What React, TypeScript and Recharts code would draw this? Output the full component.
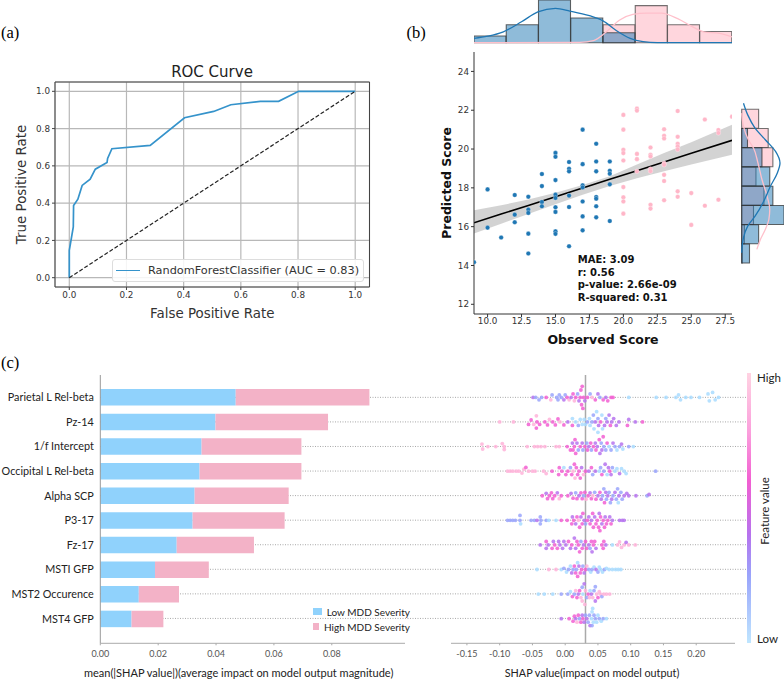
import React from "react";
import {
  Area,
  Bar,
  BarChart,
  CartesianGrid,
  ComposedChart,
  Legend,
  Line,
  LineChart,
  ReferenceLine,
  Scatter,
  ScatterChart,
  XAxis,
  YAxis,
} from "recharts";

// panel (a)
const rocPoints = [
  { fpr: 0, tpr: 0 }, { fpr: 0, tpr: 0.147 }, { fpr: 0.014, tpr: 0.272 }, { fpr: 0.015, tpr: 0.387 },
  { fpr: 0.03, tpr: 0.421 }, { fpr: 0.045, tpr: 0.495 }, { fpr: 0.073, tpr: 0.529 }, { fpr: 0.091, tpr: 0.582 },
  { fpr: 0.132, tpr: 0.618 }, { fpr: 0.134, tpr: 0.64 }, { fpr: 0.149, tpr: 0.692 }, { fpr: 0.283, tpr: 0.71 },
  { fpr: 0.403, tpr: 0.858 }, { fpr: 0.505, tpr: 0.892 }, { fpr: 0.565, tpr: 0.928 }, { fpr: 0.668, tpr: 0.946 },
  { fpr: 0.732, tpr: 0.946 }, { fpr: 0.802, tpr: 1 }, { fpr: 1, tpr: 1 },
];
const chanceLine = [{ fpr: 0, tpr: 0 }, { fpr: 1, tpr: 1 }];
const rocTicks = [0, 0.2, 0.4, 0.6, 0.8, 1];

// panel (b) scatter: [observed, predicted]
const lowScores = [
  [9, 14.17], [10, 17.92], [10, 15.95], [11, 15.44], [12, 17.63], [12, 16.62], [12, 16.23],
  [13, 17.54], [13, 16.88], [13, 16.71], [13, 15.64], [13, 14.62], [14, 18.71], [14, 18.09], [14, 17.27], [14, 17.05],
  [15, 19.8], [15, 19.6], [15, 18.4], [15, 17.65], [15, 17.48], [15, 17.0], [15, 16.76], [15, 15.76], [15, 15.63],
  [16, 19.33], [16, 18.98], [16, 18.85], [16, 17.6], [16, 17.01], [16, 14.99],
  [17, 21.0], [17, 19.22], [17, 18.13], [17, 18.02], [17, 17.3], [17, 16.53], [17, 15.81],
  [18, 20.27], [18, 19.36], [18, 18.85], [18, 17.53], [18, 17.44], [18, 17.05], [18, 16.48],
  [19, 19.36], [19, 18.88], [19, 18.73], [19, 18.18], [19, 16.29],
];
const highScores = [
  [20, 21.76], [20, 21.0], [20, 19.96], [20, 19.79], [20, 19.41], [20, 18.04], [20, 17.51], [20, 17.3], [20, 16.67],
  [21, 22.08], [21, 21.98], [21, 19.75], [21, 19.48], [21, 18.85],
  [22, 20.08], [22, 19.7], [22, 19.62], [22, 18.97], [22, 18.86], [22, 17.13], [22, 16.93],
  [23, 21.02], [23, 20.68], [23, 20.54], [23, 19.27], [23, 19.19], [23, 18.67], [23, 18.35], [23, 17.36],
  [24, 21.96], [24, 20.63], [24, 20.27], [24, 20.13], [24, 19.98], [24, 17.82], [24, 17.54],
  [25, 17.73], [25, 16.09], [26, 21.52], [26, 17.08], [27, 20.98], [27, 20.83], [27, 17.39], [28, 21.67],
];
const fitRows = [
  { x: 9, fit: 16.2, band: [15.65, 16.85] }, { x: 11, fit: 16.65, band: [16.15, 17.1] },
  { x: 13, fit: 17.09, band: [16.65, 17.4] }, { x: 15, fit: 17.54, band: [17.15, 17.75] },
  { x: 17, fit: 17.99, band: [17.65, 18.15] }, { x: 19, fit: 18.44, band: [18.1, 18.6] },
  { x: 21, fit: 18.88, band: [18.5, 19.2] }, { x: 23, fit: 19.33, band: [18.85, 19.8] },
  { x: 25, fit: 19.78, band: [19.2, 20.35] }, { x: 28, fit: 20.45, band: [19.7, 21.25] },
];
const observedTicks = [10, 12.5, 15, 17.5, 20, 22.5, 25, 27.5];
const predictedTicks = [12, 14, 16, 18, 20, 22, 24];
const statLines = ["MAE: 3.09", "r: 0.56", "p-value: 2.66e-09", "R-squared: 0.31"];

// panel (b) marginals
const observedBins = [
  { bin: "9.0", low: 3, high: 0 }, { bin: "11.4", low: 8, high: 0 }, { bin: "13.8", low: 19, high: 0 },
  { bin: "16.1", low: 11, high: 0 }, { bin: "18.5", low: 4.4, high: 8 }, { bin: "20.9", low: 0, high: 16.5 },
  { bin: "23.3", low: 0, high: 8 }, { bin: "25.6", low: 0, high: 5 },
];
const predictedBins = [
  { bin: "21.1", low: 0, high: 7.6 }, { bin: "20.1", low: 2.6, high: 11.9 }, { bin: "19.1", low: 9.1, high: 14 },
  { bin: "18.1", low: 12.6, high: 6.4 }, { bin: "17.1", low: 14, high: 10 }, { bin: "16.1", low: 19, high: 5.3 },
  { bin: "15.1", low: 7.6, high: 1.2 }, { bin: "14.1", low: 3.5, high: 0.3 },
];
const kdeObservedLow = [
  { x: 9, d: 1.9 }, { x: 10, d: 2.9 }, { x: 11.16, d: 4.85 }, { x: 12.5, d: 9.3 }, { x: 13.7, d: 13.7 },
  { x: 15, d: 15.3 }, { x: 16.06, d: 14.1 }, { x: 17.5, d: 12 }, { x: 18.5, d: 9.7 }, { x: 19.5, d: 5.3 },
  { x: 20.5, d: 1.9 }, { x: 21.45, d: 0.45 }, { x: 22.5, d: 0 }, { x: 28, d: 0 },
];
const kdeObservedHigh = [
  { x: 9, d: 0 }, { x: 16.8, d: 0.15 }, { x: 17.8, d: 0.9 }, { x: 18.75, d: 4.85 }, { x: 19.7, d: 10 },
  { x: 20.7, d: 12.6 }, { x: 21.7, d: 13.2 }, { x: 22.8, d: 13.2 }, { x: 24, d: 10.7 }, { x: 25, d: 7.4 },
  { x: 25.9, d: 4.85 }, { x: 27.1, d: 4.1 }, { x: 28, d: 2.6 },
];
const kdePredictedLow = [
  { y: 21.84, d: 0 }, { y: 21.07, d: 0.8 }, { y: 20.47, d: 2.7 }, { y: 19.96, d: 6 }, { y: 19.19, d: 9.9 },
  { y: 18.42, d: 12.9 }, { y: 17.73, d: 16 }, { y: 17.22, d: 17.2 }, { y: 16.62, d: 15.2 }, { y: 16.02, d: 10.6 },
  { y: 15.42, d: 6 }, { y: 14.74, d: 2.7 }, { y: 14.14, d: 0.8 },
];
const kdePredictedHigh = [
  { y: 21.67, d: 6.8 }, { y: 21.16, d: 8.4 }, { y: 20.64, d: 10.6 }, { y: 20.13, d: 12.2 }, { y: 19.6, d: 12.6 },
  { y: 18.93, d: 11.4 }, { y: 18.07, d: 9.1 }, { y: 17.22, d: 7.3 }, { y: 16.45, d: 5.3 }, { y: 16.02, d: 3 },
  { y: 15.33, d: 0.8 }, { y: 14.65, d: 0 },
];

// panel (c) bars
const features = [
  "Parietal L Rel-beta", "Pz-14", "1/f Intercept", "Occipital L Rel-beta", "Alpha SCP",
  "P3-17", "Fz-17", "MSTI GFP", "MST2 Occurence", "MST4 GFP",
];
const lowSeverity = [0.0468, 0.0398, 0.035, 0.0343, 0.0326, 0.0319, 0.0264, 0.0189, 0.0133, 0.0108];
const highSeverity = [0.0462, 0.0389, 0.0345, 0.0352, 0.0325, 0.0318, 0.0267, 0.0186, 0.0139, 0.011];
const meanTicks = [0, 0.02, 0.04, 0.06, 0.08];

// panel (c) beeswarm: [shap, lift within the row, colour tone]
const swarmParietal = [
  [-.049,0,2],[-.045,0,1],[-.04,.1,1],[-.036,0,1],[-.029,0,3],[-.022,.1,4],[-.02,-.1,1],[-.013,0,1],[-.011,.1,1],[-.009,-.1,1],
  [-.006,0,1],[-.002,.1,2],[0,-.1,1],[.003,0,3],[.006,.1,4],[.009,0,2],[.012,-.14,3],[.014,.14,4],[.016,0,3],[.019,-.14,1],
  [.021,.14,2],[.023,0,3],[.024,-.3,3],[.025,.3,3],[.026,-.45,3],[.027,.45,3],[.028,0,3],[.03,.14,2],[.034,0,3],[.038,-.14,1],
  [.041,0,4],[.046,.1,3],[.05,-.14,2],[.053,0,1],[.058,.1,3],[.062,0,2],[.065,.14,3],[.07,0,3],[.073,0,3],[.097,0,0],
  [.139,0,0],[.154,0,0],[.169,0,0],[.173,-.1,0],[.176,.1,0],[.184,0,0],[.192,0,0],[.205,0,0],[.218,-.14,0],[.22,.14,0],
  [.225,-.2,0],[.229,.1,0],[.234,0,0],
];
const swarmPz = [
  [-.1,0,4],[-.079,0,4],[-.056,.1,3],[-.052,-.08,3],[-.048,.1,4],[-.044,-.25,4],[-.044,.25,3],[-.043,0,3],[-.039,.1,3],[-.031,0,3],
  [-.027,.12,3],[-.024,-.1,4],[-.019,0,3],[-.015,.12,3],[-.011,-.12,3],[-.008,0,4],[-.002,.12,3],[.004,0,2],[.011,-.14,0],[.011,.14,3],
  [.016,0,0],[.02,.14,1],[.023,-.1,0],[.026,.1,0],[.029,-.1,0],[.031,.1,0],[.034,0,1],[.037,-.14,0],[.038,.14,0],[.041,0,1],
  [.043,-.28,1],[.044,.28,0],[.046,0,2],[.048,-.42,0],[.05,.42,0],[.05,-.14,1],[.051,.14,2],[.054,0,3],[.056,-.28,0],[.057,.28,0],
  [.06,.14,2],[.062,-.14,1],[.064,0,2],[.067,-.28,2],[.069,.14,3],[.071,0,2],[.074,-.14,2],[.078,.14,2],[.082,0,2],[.097,-.1,2],
  [.095,.14,3],[.107,0,2],[.118,0,3],
];
const swarmIntercept = [
  [-.127,-.1,4],[-.126,.1,4],[-.118,0,4],[-.106,0,4],[-.096,-.12,4],[-.093,.12,4],[-.093,0,4],[-.058,0,4],[-.047,0,4],[-.042,0,4],
  [-.037,0,4],[-.031,0,4],[-.014,0,4],[-.009,0,4],[.003,0,3],[.008,.14,3],[.011,-.14,2],[.012,.14,3],[.014,0,3],[.015,-.28,3],
  [.016,.28,3],[.018,-.14,2],[.02,.14,1],[.023,0,3],[.026,-.14,2],[.027,.14,1],[.03,0,3],[.033,-.14,1],[.034,.14,3],[.036,0,2],
  [.039,-.14,3],[.04,.14,1],[.043,0,3],[.046,-.14,2],[.047,.14,3],[.049,0,2],[.052,-.28,3],[.053,.28,2],[.055,-.14,1],[.056,.14,2],
  [.058,-.4,3],[.059,0,1],[.062,.14,1],[.064,-.14,3],[.067,0,0],[.07,.14,1],[.073,-.14,2],[.076,0,1],[.079,.14,0],[.083,0,1],
  [.086,-.1,2],[.088,.1,0],[.097,0,1],[.104,0,0],
];
const swarmOccipital = [
  [-.088,0,4],[-.084,0,4],[-.08,0,4],[-.075,0,4],[-.071,0,4],[-.066,.08,4],[-.063,-.08,4],[-.06,-.15,3],[-.056,0,4],[-.05,0,4],
  [-.046,0,4],[-.033,0,4],[-.029,.1,4],[-.02,0,3],[-.01,.14,3],[-.009,-.14,3],[-.005,0,3],[-.002,-.14,0],[.001,.14,3],[.004,0,3],
  [.008,-.14,1],[.01,.14,3],[.012,0,4],[.014,-.28,3],[.015,.28,4],[.017,-.14,3],[.019,.14,3],[.021,0,3],[.023,.28,3],[.025,-.14,2],
  [.028,.14,4],[.031,0,3],[.036,0,2],[.04,-.14,3],[.042,.14,1],[.046,0,2],[.052,0,0],[.054,-.14,1],[.056,.14,3],[.059,0,1],
  [.061,-.28,2],[.064,.14,0],[.066,-.14,2],[.068,0,3],[.07,.14,2],[.072,-.14,1],[.076,0,0],[.079,-.1,0],[.083,.1,2],[.086,-.1,0],
  [.09,0,0],[.093,.1,0],[.138,0,1],
];
const swarmAlpha = [
  [-.035,0,3],[-.029,-.1,2],[-.027,.12,3],[-.024,0,3],[-.021,-.12,3],[-.019,.12,3],[-.016,0,3],[-.012,-.12,2],[-.009,.12,4],[-.006,0,3],
  [.004,0,3],[.009,-.1,2],[.012,.1,3],[.016,-.12,1],[.018,.12,3],[.021,0,2],[.024,-.12,3],[.026,.12,3],[.028,0,1],[.03,-.14,3],
  [.032,.14,4],[.035,0,3],[.038,-.12,2],[.04,.12,3],[.042,0,4],[.045,-.14,1],[.047,.14,3],[.05,0,2],[.053,-.14,3],[.055,.14,2],
  [.057,0,1],[.059,-.28,1],[.06,.28,3],[.062,-.14,2],[.063,.14,1],[.065,0,2],[.067,-.14,1],[.069,.28,1],[.071,.14,2],[.073,0,1],
  [.076,-.14,2],[.078,.14,1],[.08,-.28,1],[.081,.28,0],[.082,0,2],[.085,-.14,1],[.087,.14,1],[.09,0,2],[.094,-.1,2],[.097,0,2],
  [.108,0,2],[.125,0,1],[.128,-.05,2],
];
const swarmP3 = [
  [-.088,0,1],[-.084,0,1],[-.08,0,1],[-.076,0,1],[-.069,0,1],[-.069,-.2,1],[-.068,.14,0],[-.052,0,1],[-.047,0,1],[-.043,0,2],
  [-.038,-.14,1],[-.038,.14,1],[-.037,0,1],[-.029,0,1],[-.025,0,0],[-.014,0,0],[-.006,0,3],[.003,0,3],[.01,.14,3],[.011,-.14,2],
  [.013,0,3],[.016,.14,2],[.018,-.14,3],[.02,0,4],[.022,.28,3],[.024,-.14,2],[.026,.14,3],[.027,-.28,3],[.029,0,2],[.031,.14,1],
  [.034,0,3],[.036,-.14,2],[.038,.14,3],[.04,0,2],[.042,-.28,3],[.043,.28,3],[.045,-.14,2],[.047,.14,3],[.049,0,3],[.051,.28,3],
  [.052,-.28,2],[.053,.42,3],[.054,-.14,3],[.056,.14,2],[.058,0,3],[.06,.28,3],[.061,-.14,2],[.063,.14,3],[.065,0,3],[.068,-.14,2],
  [.07,.14,3],[.072,0,2],[.083,0,2],[.087,0,2],[.09,0,2],
];
const swarmFz = [
  [-.038,0,2],[-.029,.14,2],[-.029,-.14,3],[-.026,0,2],[-.02,.14,3],[-.018,-.14,2],[-.016,0,3],[-.012,.14,3],[-.01,-.14,2],[-.008,0,2],
  [-.004,.14,2],[-.002,-.14,2],[.001,0,2],[.005,-.14,3],[.008,.14,2],[.01,0,3],[.014,-.28,2],[.016,.14,2],[.018,-.14,3],[.02,0,3],
  [.022,.28,3],[.024,-.14,1],[.026,.14,3],[.028,0,2],[.031,-.14,3],[.033,.14,3],[.036,0,2],[.038,.14,1],[.04,-.14,3],[.041,.28,2],
  [.043,0,3],[.045,-.14,3],[.047,.14,2],[.056,0,3],[.058,.14,3],[.059,-.14,3],[.062,0,2],[.072,0,0],[.08,0,4],[.083,-.12,4],
  [.086,.1,4],[.09,0,4],[.093,-.1,2],[.097,0,4],[.107,0,4],
];
const swarmMst1 = [
  [-.043,0,0],[-.025,0,4],[-.014,0,4],[-.006,0,0],[-.002,-.05,1],[.002,.1,0],[.005,0,1],[.008,-.14,0],[.01,.14,2],[.012,0,1],
  [.014,-.14,3],[.016,.14,3],[.017,0,1],[.019,-.28,0],[.019,.28,3],[.021,-.14,2],[.023,.14,3],[.025,0,3],[.027,-.14,1],[.029,.14,2],
  [.031,0,3],[.033,-.14,4],[.036,0,1],[.039,.1,0],[.041,0,1],[.044,-.1,0],[.047,0,2],[.05,.1,1],[.052,-.1,0],[.054,0,0],
  [.057,.1,0],[.06,0,1],[.063,-.05,0],[.067,0,0],[.072,0,0],[.077,0,0],[.081,0,0],[.085,0,0],
];
const swarmMst2 = [
  [-.041,0,0],[-.032,0,0],[-.019,0,0],[-.006,0,1],[.004,0,1],[.008,-.1,0],[.011,.1,3],[.014,0,1],[.016,-.14,4],[.018,.14,3],
  [.02,0,2],[.022,-.14,3],[.024,.14,4],[.026,-.28,1],[.026,.28,4],[.027,0,0],[.029,-.42,2],[.03,.42,4],[.031,-.14,4],[.033,.14,1],
  [.035,0,3],[.037,.14,4],[.038,-.14,0],[.04,0,2],[.042,.14,4],[.044,-.14,1],[.046,.28,2],[.046,-.3,1],[.048,0,4],[.05,.14,3],
  [.052,-.1,4],[.054,0,4],[.056,.1,1],[.059,0,4],[.063,0,4],[.068,0,4],
];
const swarmMst4 = [
  [-.006,0,2],[.006,0,3],[.012,.1,3],[.014,-.1,3],[.016,0,2],[.018,.14,4],[.02,-.14,3],[.022,0,1],[.024,.14,3],[.026,-.14,2],
  [.027,0,3],[.029,.14,2],[.031,-.14,1],[.033,0,2],[.035,.14,1],[.037,-.14,1],[.038,.28,2],[.04,0,0],[.041,-.28,0],[.041,.28,1],
  [.042,-.42,0],[.043,.14,0],[.044,-.14,1],[.046,0,1],[.048,.14,0],[.05,-.14,0],[.052,0,1],[.055,.1,0],[.058,0,1],[.063,0,0],
];
const swarmRows = [
  swarmParietal, swarmPz, swarmIntercept, swarmOccipital, swarmAlpha,
  swarmP3, swarmFz, swarmMst1, swarmMst2, swarmMst4,
];
const shapTicks = [-0.15, -0.1, -0.05, 0, 0.05, 0.1, 0.15, 0.2];
const rowTicks = [0, 1, 2, 3, 4, 5, 6, 7, 8, 9];
const toneColors = ["#a9dcff", "#9aa4fb", "#b673ee", "#f25fd2", "#ffb3d9"];

const severityRows = features.map((name, i) => ({ name, low: lowSeverity[i], high: highSeverity[i] }));
const rowAnchors = rowTicks.map((row) => ({ across: 0.5, row }));
const toRows = (pts: number[][]) => pts.map(([x, y]) => ({ x, y }));

const SANS = "'DejaVu Sans', sans-serif";
const LATO = "Lato, sans-serif";
const SERIF = "'Liberation Serif', serif";
const BLUE = "#1f77b4";
const PINK = "#ffc0cb";

const Note = ({ left, top, style, children }: any) => (
  <div style={{ position: "absolute", left, top, whiteSpace: "nowrap", lineHeight: 1, ...style }}>{children}</div>
);

const Panel = ({ left, top, children }: any) => (
  <div style={{ position: "absolute", left, top }}>{children}</div>
);

const dotShape = (fill: string, r: number) => (p: any) => (
  <circle cx={p.cx} cy={p.cy} r={r} fill={fill} stroke="#fff" strokeWidth={0.3} />
);

const SwarmDot = (p: any) => (
  <circle cx={p.cx} cy={p.cy} r={1.9} fill={toneColors[p.payload.tone]} fillOpacity={0.85} />
);

// plain text tick, the default one wraps long names to the axis width
const FeatureTick = ({ x, y, payload }: any) => (
  <text x={x} y={y} dy="0.34em" textAnchor="end" fontSize={10.8} fontFamily={LATO} fill="#222">{payload.value}</text>
);

const RocLegend = ({ payload }: any) => {
  const item = (payload || []).find((d: any) => d.type !== "none");
  return (
    <div style={{ width: 252, height: 23, boxSizing: "border-box", border: "1px solid #ddd", borderRadius: 3, background: "rgba(255,255,255,0.85)", display: "flex", alignItems: "center", fontFamily: SANS, fontSize: 11.3, color: "#333", whiteSpace: "nowrap" }}>
      <span style={{ width: 24, height: 0, borderTop: "1.7px solid #3593cb", margin: "0 8px 0 3px" }} />
      {item ? item.value : ""}
    </div>
  );
};

const SeverityLegend = ({ payload }: any) => (
  <div style={{ fontFamily: LATO, fontSize: 10, color: "#222", whiteSpace: "nowrap" }}>
    {[...(payload || [])].sort((a: any, b: any) => (a.value < b.value ? 1 : -1)).map((d: any) => (
      <div key={d.value} style={{ display: "flex", alignItems: "center", height: 15 }}>
        <span style={{ width: 17, height: 7, background: d.color, marginRight: 5 }} />
        {d.value}
      </div>
    ))}
  </div>
);

export default function App() {
  return (
    <div style={{ position: "absolute", left: 0, top: 0, width: 784, height: 679, background: "#fff", overflow: "hidden" }}>
      <Note left={1} top={25} style={{ fontFamily: SERIF, fontSize: 16.5 }}>(a)</Note>
      <Note left={406.5} top={24.5} style={{ fontFamily: SERIF, fontSize: 16.5 }}>(b)</Note>
      <Note left={1} top={354.5} style={{ fontFamily: SERIF, fontSize: 16.5 }}>(c)</Note>

      {/* ROC */}
      <Note left={212} top={65} style={{ transform: "translateX(-50%)", fontFamily: SANS, fontSize: 15, color: "#222" }}>ROC Curve</Note>
      <Panel left={0} top={60}>
        <LineChart width={390} height={268} margin={{ top: 22, right: 20.5, bottom: 8, left: 0 }}>
          <CartesianGrid stroke="#b8b8b8" strokeWidth={1.2} />
          <XAxis
            dataKey="fpr"
            type="number"
            domain={[-0.05, 1.05]}
            ticks={rocTicks}
            height={33}
            tickSize={3}
            tickMargin={2}
            stroke="#444"
            tick={{ fontSize: 8.8, fill: "#333", fontFamily: SANS }}
            tickFormatter={(v: number) => v.toFixed(1)}
            label={{ value: "False Positive Rate", position: "insideBottom", offset: 2.5, style: { fontFamily: SANS, fontSize: 13.4, fill: "#333" } }}
          />
          <YAxis
            type="number"
            domain={[-0.05, 1.05]}
            ticks={rocTicks}
            width={55}
            tickSize={3}
            tickMargin={2}
            stroke="#444"
            tick={{ fontSize: 8.8, fill: "#333", fontFamily: SANS }}
            tickFormatter={(v: number) => v.toFixed(1)}
            label={{ value: "True Positive Rate", angle: -90, position: "insideLeft", offset: 21, style: { textAnchor: "middle", fontFamily: SANS, fontSize: 13.4, fill: "#333" } }}
          />
          <ReferenceLine y={1.05} stroke="#444" />
          <ReferenceLine x={1.05} stroke="#444" />
          <Line data={rocPoints} dataKey="tpr" name="RandomForestClassifier (AUC = 0.83)" stroke="#3593cb" strokeWidth={1.7} dot={false} isAnimationActive={false} />
          <Line data={chanceLine} dataKey="tpr" stroke="#222" strokeWidth={1.2} strokeDasharray="4 2" dot={false} legendType="none" isAnimationActive={false} />
          <Legend layout="vertical" align="center" verticalAlign="middle" wrapperStyle={{ left: 112, top: 199, width: 252, height: 23 }} content={<RocLegend />} />
        </LineChart>
      </Panel>

      {/* joint plot, top marginal */}
      <Panel left={474} top={0}>
        <ComposedChart width={258} height={46} data={observedBins} barCategoryGap={0} margin={{ top: 0, right: 0, bottom: 0, left: 0 }}>
          <XAxis xAxisId="pink" dataKey="bin" hide />
          <XAxis xAxisId="blue" dataKey="bin" hide />
          <XAxis xAxisId="num" dataKey="x" type="number" domain={[9, 28]} ticks={observedTicks} height={3.3} tickSize={3} tickFormatter={() => ""} stroke="#445" />
          <YAxis type="number" domain={[0, 19]} hide />
          <Bar xAxisId="pink" dataKey="high" fill={PINK} fillOpacity={0.65} stroke="#444" strokeOpacity={0.75} strokeWidth={1.1} isAnimationActive={false} />
          <Bar xAxisId="blue" dataKey="low" fill={BLUE} fillOpacity={0.5} stroke="#333" strokeOpacity={0.75} strokeWidth={1.1} isAnimationActive={false} />
          <Line xAxisId="num" data={kdeObservedHigh} dataKey="d" type="monotone" stroke="#ffc0cb" strokeWidth={1.3} dot={false} isAnimationActive={false} />
          <Line xAxisId="num" data={kdeObservedLow} dataKey="d" type="monotone" stroke={BLUE} strokeWidth={1.3} dot={false} isAnimationActive={false} />
        </ComposedChart>
      </Panel>

      {/* joint plot, main */}
      <Panel left={400} top={40}>
        <ComposedChart width={340} height={310} data={fitRows} margin={{ top: 12, right: 8, bottom: 5, left: 0 }}>
          <XAxis
            dataKey="x"
            type="number"
            domain={[9, 28]}
            ticks={observedTicks}
            allowDataOverflow
            height={31}
            tickSize={3}
            tickMargin={1}
            stroke="#333"
            tick={{ fontSize: 8.8, fill: "#333", fontFamily: SANS }}
            tickFormatter={(v: number) => v.toFixed(1)}
            label={{ value: "Observed Score", position: "insideBottom", offset: 1, style: { fontFamily: SANS, fontWeight: 700, fontSize: 12.5, fill: "#111" } }}
          />
          <YAxis
            type="number"
            domain={[11.5, 25]}
            ticks={predictedTicks}
            allowDataOverflow
            width={74}
            tickSize={3}
            tickMargin={2}
            stroke="#333"
            tick={{ fontSize: 8.8, fill: "#333", fontFamily: SANS }}
            label={{ value: "Predicted Score", angle: -90, position: "insideLeft", offset: 46.7, style: { textAnchor: "middle", fontFamily: SANS, fontWeight: 700, fontSize: 12.5, fill: "#111" } }}
          />
          <Scatter data={toRows(highScores)} dataKey="y" shape={dotShape("#ffb6c8", 2.3)} isAnimationActive={false} />
          <Scatter data={toRows(lowScores)} dataKey="y" shape={dotShape(BLUE, 2.3)} isAnimationActive={false} />
          <Area dataKey="band" stroke="none" fill="#b5b5b5" fillOpacity={0.6} isAnimationActive={false} />
          <Line dataKey="fit" stroke="#000" strokeWidth={1.6} dot={false} isAnimationActive={false} />
        </ComposedChart>
      </Panel>
      {statLines.map((line, i) => (
        <Note key={line} left={577.7} top={255 + i * 12.5} style={{ fontFamily: SANS, fontWeight: 700, fontSize: 10, color: "#111" }}>{line}</Note>
      ))}

      {/* joint plot, right marginal */}
      <Panel left={738} top={52}>
        <ComposedChart width={46} height={262} layout="vertical" data={predictedBins} barCategoryGap={0} margin={{ top: 0, right: 0, bottom: 0, left: 0 }}>
          <XAxis type="number" domain={[0, 19]} hide />
          <YAxis yAxisId="pink" dataKey="bin" type="category" hide padding={{ top: 57.3, bottom: 50.7 }} />
          <YAxis yAxisId="blue" dataKey="bin" type="category" hide padding={{ top: 57.3, bottom: 50.7 }} />
          <YAxis yAxisId="num" dataKey="y" type="number" domain={[11.5, 25]} ticks={predictedTicks} width={3.7} tickSize={3} tickFormatter={() => ""} stroke="#334" />
          <Bar yAxisId="pink" dataKey="high" fill={PINK} fillOpacity={0.65} stroke="#444" strokeOpacity={0.75} strokeWidth={1.1} isAnimationActive={false} />
          <Bar yAxisId="blue" dataKey="low" fill={BLUE} fillOpacity={0.5} stroke="#333" strokeOpacity={0.75} strokeWidth={1.1} isAnimationActive={false} />
          <Line yAxisId="num" data={kdePredictedHigh} dataKey="d" type="monotone" stroke="#ffc0cb" strokeWidth={1.3} dot={false} isAnimationActive={false} />
          <Line yAxisId="num" data={kdePredictedLow} dataKey="d" type="monotone" stroke={BLUE} strokeWidth={1.3} dot={false} isAnimationActive={false} />
        </ComposedChart>
      </Panel>

      {/* dotted row lines running behind both lower charts */}
      <Panel left={100} top={375}>
        <ScatterChart width={647} height={268} margin={{ top: 0, right: 0, bottom: 0, left: 0 }}>
          <XAxis dataKey="across" type="number" domain={[0, 1]} hide />
          <YAxis type="number" domain={[-0.91, 10]} reversed hide />
          <Scatter data={rowAnchors} dataKey="row" shape={() => <g />} isAnimationActive={false} />
          {rowTicks.map((row) => (
            <ReferenceLine key={row} y={row} stroke="#a8a8a8" strokeDasharray="1 1.5" />
          ))}
        </ScatterChart>
      </Panel>

      {/* mean SHAP bars */}
      <Panel left={0} top={370}>
        <BarChart width={410} height={309} layout="vertical" data={severityRows} barSize={16.5} margin={{ top: 5, right: 5, bottom: 0, left: 0 }}>
          <XAxis
            type="number"
            domain={[0, 0.1053]}
            ticks={meanTicks}
            height={35.7}
            tickSize={2}
            tickMargin={5}
            stroke="#aaa"
            tick={{ fontSize: 9, fill: "#555", fontFamily: LATO }}
            tickFormatter={(v: number) => v.toFixed(2)}
            label={{ value: "mean(|SHAP value|)(average impact on model output magnitude)", position: "insideBottom", offset: 2, dx: -14, style: { fontFamily: LATO, fontSize: 11, fill: "#222" } }}
          />
          <YAxis
            dataKey="name"
            type="category"
            width={100.3}
            interval={0}
            padding={{ top: 10, bottom: 12 }}
            tickLine={false}
            tickSize={0}
            tickMargin={6.5}
            stroke="#999"
            tick={FeatureTick}
          />
          <Bar dataKey="low" name="Low MDD Severity" stackId="a" fill="#90d2fc" isAnimationActive={false} />
          <Bar dataKey="high" name="High MDD Severity" stackId="a" fill="#f3b2c7" isAnimationActive={false} />
          <Legend layout="vertical" align="center" verticalAlign="middle" wrapperStyle={{ left: 313, top: 234, width: 97, height: 30 }} content={<SeverityLegend />} />
        </BarChart>
      </Panel>

      {/* SHAP beeswarm */}
      <Panel left={451} top={370}>
        <ScatterChart width={284} height={309} margin={{ top: 5, right: 0, bottom: 0, left: 0 }}>
          <XAxis
            dataKey="shap"
            type="number"
            domain={[-0.1743, 0.2592]}
            ticks={shapTicks}
            height={35.7}
            tickSize={2}
            tickMargin={5}
            stroke="#aaa"
            tick={{ fontSize: 9, fill: "#555", fontFamily: LATO }}
            tickFormatter={(v: number) => v.toFixed(2)}
            label={{ value: "SHAP value(impact on model output)", position: "insideBottom", offset: 2, dx: -1, style: { fontFamily: LATO, fontSize: 10.8, fill: "#222" } }}
          />
          <YAxis type="number" domain={[-0.91, 10]} ticks={rowTicks} reversed hide />
          {swarmRows.map((pts, row) => (
            <Scatter
              key={row}
              data={pts.map(([shap, lift, tone]) => ({ shap, pos: row + lift, tone }))}
              dataKey="pos"
              shape={SwarmDot}
              isAnimationActive={false}
            />
          ))}
          <ReferenceLine x={0.031} stroke="#aaa" strokeWidth={1.5} />
        </ScatterChart>
      </Panel>

      {/* colour bar */}
      <div style={{ position: "absolute", left: 747, top: 373, width: 4, height: 270, background: "linear-gradient(to bottom, #ffd3e2 0%, #fb9fdc 22%, #f25fd2 40%, #b673ee 60%, #9aa4fb 75%, #bfe6ff 100%)" }} />
      <Note left={757} top={372} style={{ fontFamily: LATO, fontSize: 11.5, color: "#222" }}>High</Note>
      <Note left={757} top={633} style={{ fontFamily: LATO, fontSize: 11.5, color: "#222" }}>Low</Note>
      <Note left={765} top={511} style={{ transform: "translate(-50%, -50%) rotate(-90deg)", fontFamily: LATO, fontSize: 11.5, color: "#222" }}>Feature value</Note>
    </div>
  );
}
